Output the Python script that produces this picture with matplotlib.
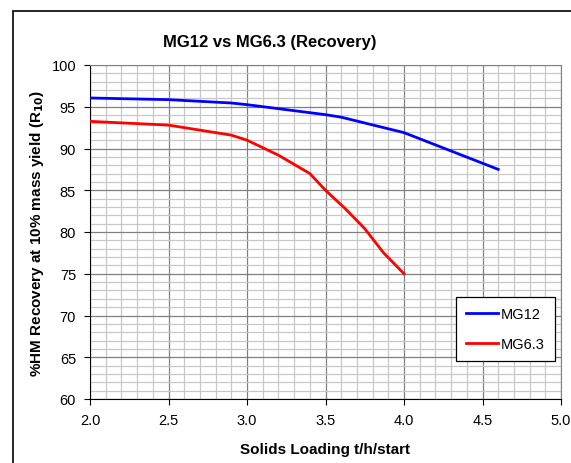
import matplotlib
matplotlib.use("Agg")
import matplotlib.pyplot as plt
from matplotlib.ticker import MultipleLocator
from matplotlib.patches import Rectangle

plt.rcParams['font.family'] = ['Liberation Sans', 'DejaVu Sans']

mg12_x = [2.0, 2.25, 2.5, 2.9, 3.0, 3.5, 3.6, 4.0, 4.6]
mg12_y = [96.05, 95.95, 95.85, 95.45, 95.25, 94.05, 93.75, 91.9, 87.5]
mg63_x = [2.0, 2.5, 2.9, 3.0, 3.2, 3.4, 3.5, 3.62, 3.75, 3.87, 4.0]
mg63_y = [93.25, 92.8, 91.6, 91.0, 89.2, 87.0, 85.0, 82.9, 80.4, 77.5, 75.0]

W, H = 571, 464
fig = plt.figure(figsize=(W/100, H/100), dpi=100)
fig.patch.set_facecolor('white')
fig.add_artist(Rectangle((13/W, -0.1), 1.2, (H-12)/H + 0.1, transform=fig.transFigure,
                         fill=False, edgecolor='black', linewidth=1.2))

ax = fig.add_axes([90/W, (H-400)/H, (561-90)/W, (400-66)/H])
ax.plot(mg12_x, mg12_y, color='#0000ff', lw=2, label='MG12', zorder=3)
ax.plot(mg63_x, mg63_y, color='#ff0000', lw=2, label='MG6.3', zorder=3)

ax.set_xlim(2.0, 5.0)
ax.set_ylim(60, 100)
ax.xaxis.set_major_locator(MultipleLocator(0.5))
ax.xaxis.set_minor_locator(MultipleLocator(0.1))
ax.yaxis.set_major_locator(MultipleLocator(5))
ax.yaxis.set_minor_locator(MultipleLocator(1))
ax.set_xticklabels([f"{v:.1f}" for v in ax.get_xticks()])
ax.grid(which='minor', color='#c8c8c8', lw=0.9)
ax.grid(which='major', color='#808080', lw=0.9)
ax.set_axisbelow(True)
for s in ['top', 'right']:
    ax.spines[s].set_color('#808080')
for s in ['left', 'bottom']:
    ax.spines[s].set_color('black')
ax.tick_params(which='minor', length=0)
ax.tick_params(which='major', length=4, direction='out', labelsize=10.5, pad=6)

ax.set_xlabel('Solids Loading t/h/start', fontsize=11, fontweight='bold', labelpad=11)
ax.set_ylabel('%HM Recovery at 10% mass yield (R$_{\\mathbf{10}}$)', fontsize=11,
              fontweight='bold', labelpad=4)

fig.text(270/W, (H-42)/H, 'MG12 vs MG6.3 (Recovery)', ha='center', va='center',
         fontsize=12, fontweight='bold')

leg = ax.legend(loc='upper left', bbox_to_anchor=(456/W, (H-298)/H),
                bbox_transform=fig.transFigure, fontsize=10.5, frameon=True,
                fancybox=False, edgecolor='black', framealpha=1,
                handlelength=2.2, borderpad=0.7, labelspacing=1.1, handletextpad=0.2,
                borderaxespad=0)
leg.get_frame().set_linewidth(0.9)

fig.savefig('out.png', dpi=100)
